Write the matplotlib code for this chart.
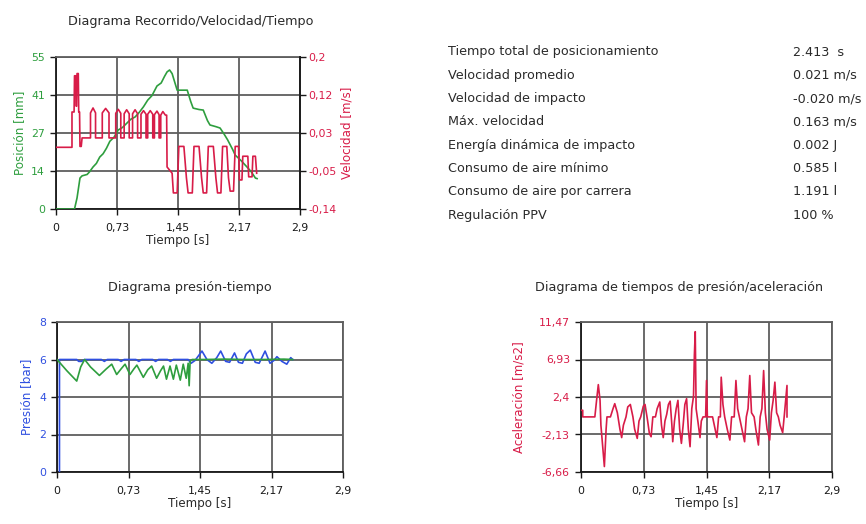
import matplotlib
matplotlib.use("Agg")
import matplotlib.pyplot as plt
import numpy as np

plt.rcParams['font.family'] = ['DejaVu Sans']

# ---- shared time axis ----
time_ticks = [0, 0.725, 1.45, 2.175, 2.9]
time_labels = ["0", "0,73", "1,45", "2,17", "2,9"]

# ---- position / velocity ----
pos_t = [0.00, 0.22, 0.25, 0.285, 0.31, 0.37, 0.40, 0.44, 0.48, 0.52, 0.56, 0.60,
         0.64, 0.69, 0.74, 0.79, 0.84, 0.89, 0.94, 0.99, 1.04, 1.09, 1.14, 1.20,
         1.25, 1.29, 1.32, 1.35, 1.38, 1.42, 1.44, 1.50, 1.56, 1.60, 1.63, 1.70,
         1.75, 1.80, 1.83, 1.90, 1.95, 2.00, 2.04, 2.10, 2.13, 2.20, 2.27, 2.32,
         2.37, 2.39]
pos_mm = [0.0, 0.0, 4.0, 11.2, 12.0, 12.5, 13.5, 15.2, 16.5, 18.8, 20.0, 22.0,
          24.5, 26.0, 28.6, 29.5, 31.0, 32.5, 33.3, 35.0, 37.0, 39.4, 41.0, 44.5,
          45.6, 48.0, 49.6, 50.3, 49.0, 45.0, 43.0, 43.0, 43.0, 39.0, 36.5, 36.0,
          35.8, 32.0, 30.4, 29.8, 29.3, 27.0, 25.0, 21.5, 19.5, 17.5, 15.2, 13.5,
          11.2, 11.0]

vel_t = [0.00, 0.19, 0.19, 0.215, 0.22, 0.235, 0.24, 0.245, 0.25, 0.265, 0.27,
         0.28, 0.285, 0.30, 0.31,
         0.41, 0.41, 0.44, 0.47, 0.47,
         0.55, 0.55, 0.59, 0.63, 0.63,
         0.71, 0.71, 0.74, 0.77, 0.77,
         0.81, 0.81, 0.84, 0.87, 0.87,
         0.91, 0.91, 0.94, 0.97, 0.97,
         1.01, 1.01, 1.04, 1.07, 1.07,
         1.09, 1.09, 1.12, 1.15, 1.15,
         1.17, 1.17, 1.20, 1.225, 1.225,
         1.245, 1.245, 1.27, 1.30, 1.315,
         1.32, 1.38, 1.395, 1.44, 1.46,
         1.52, 1.55, 1.57, 1.62, 1.64,
         1.70, 1.73, 1.75, 1.79, 1.81,
         1.87, 1.90, 1.92, 1.96, 1.98,
         2.03, 2.05, 2.07, 2.11, 2.13,
         2.17, 2.18, 2.21, 2.22,
         2.28, 2.29, 2.33, 2.34,
         2.37, 2.385]
vel_ms = [-0.002, -0.002, 0.077, 0.077, 0.158, 0.158, 0.09, 0.09, 0.163, 0.163, 0.077,
          0.077, 0.0, 0.0, 0.019,
          0.019, 0.075, 0.086, 0.075, 0.019,
          0.019, 0.075, 0.085, 0.075, 0.019,
          0.019, 0.074, 0.083, 0.074, 0.019,
          0.019, 0.073, 0.082, 0.073, 0.019,
          0.019, 0.073, 0.082, 0.073, 0.019,
          0.019, 0.072, 0.080, 0.072, 0.019,
          0.019, 0.072, 0.080, 0.072, 0.019,
          0.019, 0.071, 0.079, 0.071, 0.019,
          0.019, 0.070, 0.078, 0.070, 0.070,
          -0.046, -0.06, -0.104, -0.104, 0.0,
          0.0, -0.07, -0.104, -0.104, 0.0,
          0.0, -0.07, -0.104, -0.104, 0.0,
          0.0, -0.07, -0.104, -0.104, 0.0,
          0.0, -0.07, -0.10, -0.10, 0.0,
          0.0, -0.075, -0.075, -0.022,
          -0.022, -0.068, -0.068, -0.022,
          -0.022, -0.06]

pos_ticks = [0, 13.75, 27.5, 41.25, 55]
pos_labels = ["0", "14", "27", "41", "55"]
vel_ticks = [-0.14, -0.055, 0.03, 0.115, 0.2]
vel_labels = ["-0,14", "-0,05", "0,03", "0,12", "0,2"]

# ---- pressure ----
p1_t = [0.025, 0.025, 0.20, 0.22, 0.25, 0.28, 0.45, 0.48, 0.51, 0.62, 0.65, 0.68,
        0.80, 0.83, 0.86, 0.97, 1.00, 1.03, 1.12, 1.15, 1.18, 1.30, 1.33, 1.36,
        1.40, 1.47, 1.52, 1.57, 1.62, 1.66, 1.71, 1.75, 1.80, 1.84, 1.88, 1.92,
        1.96, 2.01, 2.05, 2.11, 2.16, 2.20, 2.23, 2.28, 2.33, 2.37, 2.39]
p1_bar = [0.0, 6.0, 6.0, 5.9, 5.9, 6.0, 6.0, 5.9, 6.0, 6.0, 5.9, 6.0,
          6.0, 5.9, 6.0, 6.0, 5.9, 6.0, 6.0, 5.9, 6.0, 6.0, 6.0, 5.8,
          5.95, 6.45, 6.0, 5.8, 6.1, 6.45, 5.9, 5.85, 6.35, 5.85, 5.8, 6.3,
          6.5, 5.85, 5.8, 6.45, 5.8, 5.95, 6.15, 5.9, 5.75, 6.1, 6.0]

p2_t = [0.00, 0.10, 0.20, 0.24, 0.28, 0.34, 0.43, 0.50, 0.555, 0.605, 0.65, 0.69,
        0.74, 0.78, 0.81, 0.875, 0.92, 0.96, 1.01, 1.05, 1.08, 1.11, 1.146, 1.18,
        1.21, 1.25, 1.28, 1.31, 1.33, 1.34, 1.35, 1.37, 1.50, 1.70, 1.90, 2.10,
        2.30, 2.39]
p2_bar = [6.0, 5.4, 4.85, 5.6, 6.0, 5.6, 5.15, 5.5, 5.75, 5.2, 5.5, 5.75,
          5.2, 5.5, 5.7, 5.05, 5.45, 5.65, 5.0, 5.4, 5.65, 4.95, 5.65, 4.95,
          5.7, 4.9, 5.75, 5.0, 5.8, 4.6, 5.9, 6.0, 6.0, 6.02, 6.0, 6.0,
          6.02, 6.0]

# ---- acceleration ----
acc_t = [0.00, 0.02, 0.02, 0.16, 0.18, 0.20, 0.22, 0.23, 0.25, 0.27, 0.29, 0.30,
         0.34, 0.37, 0.39, 0.42, 0.45, 0.47, 0.49, 0.52, 0.54, 0.57, 0.60, 0.62,
         0.65, 0.67, 0.69, 0.72, 0.74, 0.77, 0.79, 0.81, 0.83, 0.86, 0.88, 0.91,
         0.93, 0.95, 0.97, 0.99, 1.01, 1.03, 1.05, 1.06, 1.08, 1.10, 1.12, 1.14,
         1.16, 1.18, 1.20, 1.22, 1.24, 1.26, 1.28, 1.30, 1.31, 1.32, 1.33, 1.35,
         1.375, 1.39, 1.41, 1.44, 1.45, 1.46, 1.52, 1.54, 1.57, 1.59, 1.61, 1.62,
         1.64, 1.66, 1.69, 1.72, 1.74, 1.77, 1.79, 1.81, 1.83, 1.86, 1.89, 1.91,
         1.93, 1.95, 1.97, 2.00, 2.02, 2.05, 2.07, 2.09, 2.11, 2.13, 2.15, 2.18,
         2.20, 2.22, 2.24, 2.26, 2.28, 2.30, 2.33, 2.35, 2.38, 2.38]
acc_ms2 = [0.8, 0.8, 0.0, 0.0, 2.0, 3.9, 2.0, -1.0, -3.5, -6.0, -1.5, 0.0,
           0.0, 1.0, 1.6, 0.5, -1.5, -2.5, -1.0, 0.0, 1.2, 1.5, 0.0, -1.5,
           -2.6, -0.5, 0.0, 1.3, 1.5, -0.5, -2.0, -2.4, 0.0, 0.0, 1.0, 1.8,
           -1.0, -2.5, -0.5, 0.3, 1.5, 1.9, -1.0, -3.0, -0.5, 1.0, 2.0, -1.5,
           -3.2, -1.0, 1.5, 2.2, -1.5, -3.6, 1.0, 2.5, 7.5, 10.3, 1.0, -0.5,
           -2.5, -0.5, 0.0, 0.0, 4.4, 0.0, 0.0, -1.0, -2.5, 0.0, 0.0, 4.8,
           1.5, 0.0, -1.5, -2.8, 0.0, 0.0, 4.4, 1.0, 0.0, -1.5, -3.0, 0.0,
           1.0, 5.0, 0.5, 0.0, -1.5, -3.4, 0.0, 1.0, 5.6, 0.5, -1.5, -2.8,
           0.5, 2.0, 4.2, 0.5, 0.0, -1.0, -1.9, 0.3, 3.8, 0.0]
acc_ticks = [-6.66, -2.1275, 2.405, 6.9375, 11.47]
acc_labels = ["-6,66", "-2,13", "2,4", "6,93", "11,47"]

# ---- summary table ----
summary_names = ["Tiempo total de posicionamiento", "Velocidad promedio",
                 "Velocidad de impacto", "Máx. velocidad",
                 "Energía dinámica de impacto", "Consumo de aire mínimo",
                 "Consumo de aire por carrera", "Regulación PPV"]
summary_values = ["2.413  s", "0.021 m/s", "-0.020 m/s", "0.163 m/s",
                  "0.002 J", "0.585 l", "1.191 l", "100 %"]

GREEN = "#2e9e3e"
RED = "#d81c48"
BLUE = "#2f4fe0"
GRID = "#5e5e5e"
TXT = "#2a2a2a"
FS_TEXT = 9.2
FS_TICK = 7.8
FS_LABEL = 8.6

fig = plt.figure(figsize=(8.66, 5.24), dpi=100)


def style_axes(ax, ytick_color):
    ax.set_xlim(0, 2.9)
    ax.set_xticks(time_ticks)
    ax.set_xticklabels(time_labels)
    ax.grid(True, color=GRID, linewidth=1.3)
    ax.set_axisbelow(True)
    for side in ("top", "right"):
        ax.spines[side].set_color(GRID)
        ax.spines[side].set_linewidth(1.3)
    for side in ("left", "bottom"):
        ax.spines[side].set_color("#181818")
        ax.spines[side].set_linewidth(1.3)
    ax.tick_params(axis="x", direction="out", length=4, width=1, colors="#181818",
                   labelsize=FS_TICK, labelcolor="#181818", pad=6)
    ax.tick_params(axis="y", direction="out", length=4, width=1, colors="#181818",
                   labelsize=FS_TICK, labelcolor=ytick_color, pad=4)
    ax.set_xlabel("Tiempo [s]", fontsize=FS_LABEL, color=TXT, labelpad=1)


# top: position and velocity
ax1 = fig.add_axes([56 / 866, 1 - 209 / 524, 244 / 866, 152 / 524])
style_axes(ax1, GREEN)
ax1.set_ylim(0, 55)
ax1.set_yticks(pos_ticks)
ax1.set_yticklabels(pos_labels)
ax1.set_ylabel("Posición [mm]", fontsize=FS_LABEL, color=GREEN, labelpad=4)
ax1.plot(pos_t, pos_mm, color=GREEN, linewidth=1.2, zorder=3)
ax1b = ax1.twinx()
ax1b.set_ylim(-0.14, 0.2)
ax1b.set_yticks(vel_ticks)
ax1b.set_yticklabels(vel_labels)
ax1b.spines["right"].set_color("#181818")
ax1b.spines["right"].set_linewidth(1.3)
for side in ("top", "left", "bottom"):
    ax1b.spines[side].set_visible(False)
ax1b.tick_params(axis="y", direction="out", length=4, width=1, colors="#181818",
                 labelsize=FS_TICK, labelcolor=RED, pad=2)
ax1b.set_ylabel("Velocidad [m/s]", fontsize=FS_LABEL, color=RED, rotation=90, labelpad=3)
ax1b.plot(vel_t, vel_ms, color=RED, linewidth=1.2, zorder=3)
fig.text(191 / 866, 1 - 22 / 524, "Diagrama Recorrido/Velocidad/Tiempo",
         ha="center", va="center", fontsize=FS_TEXT, color=TXT)

# summary table
for i, (name, val) in enumerate(zip(summary_names, summary_values)):
    y = 1 - (52 + i * 23.3) / 524
    fig.text(448 / 866, y, name, ha="left", va="center", fontsize=FS_TEXT, color=TXT)
    fig.text(793 / 866, y, val, ha="left", va="center", fontsize=FS_TEXT, color=TXT)

# bottom-left: pressure
ax2 = fig.add_axes([57 / 866, 1 - 472 / 524, 286 / 866, 150 / 524])
style_axes(ax2, BLUE)
ax2.set_ylim(0, 8)
ax2.set_yticks([0, 2, 4, 6, 8])
ax2.set_yticklabels(["0", "2", "4", "6", "8"])
ax2.set_ylabel("Presión [bar]", fontsize=FS_LABEL, color=BLUE, labelpad=4)
ax2.plot(p1_t, p1_bar, color=BLUE, linewidth=1.2, zorder=3)
ax2.plot(p2_t, p2_bar, color=GREEN, linewidth=1.2, zorder=4)
fig.text(190 / 866, 1 - 287 / 524, "Diagrama presión-tiempo",
         ha="center", va="center", fontsize=FS_TEXT, color=TXT)

# bottom-right: acceleration
ax3 = fig.add_axes([581 / 866, 1 - 472 / 524, 251 / 866, 150 / 524])
style_axes(ax3, RED)
ax3.set_ylim(-6.66, 11.47)
ax3.set_yticks(acc_ticks)
ax3.set_yticklabels(acc_labels)
ax3.set_ylabel("Aceleración [m/s2]", fontsize=FS_LABEL, color=RED, labelpad=10)
ax3.plot(acc_t, acc_ms2, color=RED, linewidth=1.2, zorder=3)
fig.text(679 / 866, 1 - 287 / 524, "Diagrama de tiempos de presión/aceleración",
         ha="center", va="center", fontsize=FS_TEXT, color=TXT)

fig.savefig("out.png", dpi=100)
